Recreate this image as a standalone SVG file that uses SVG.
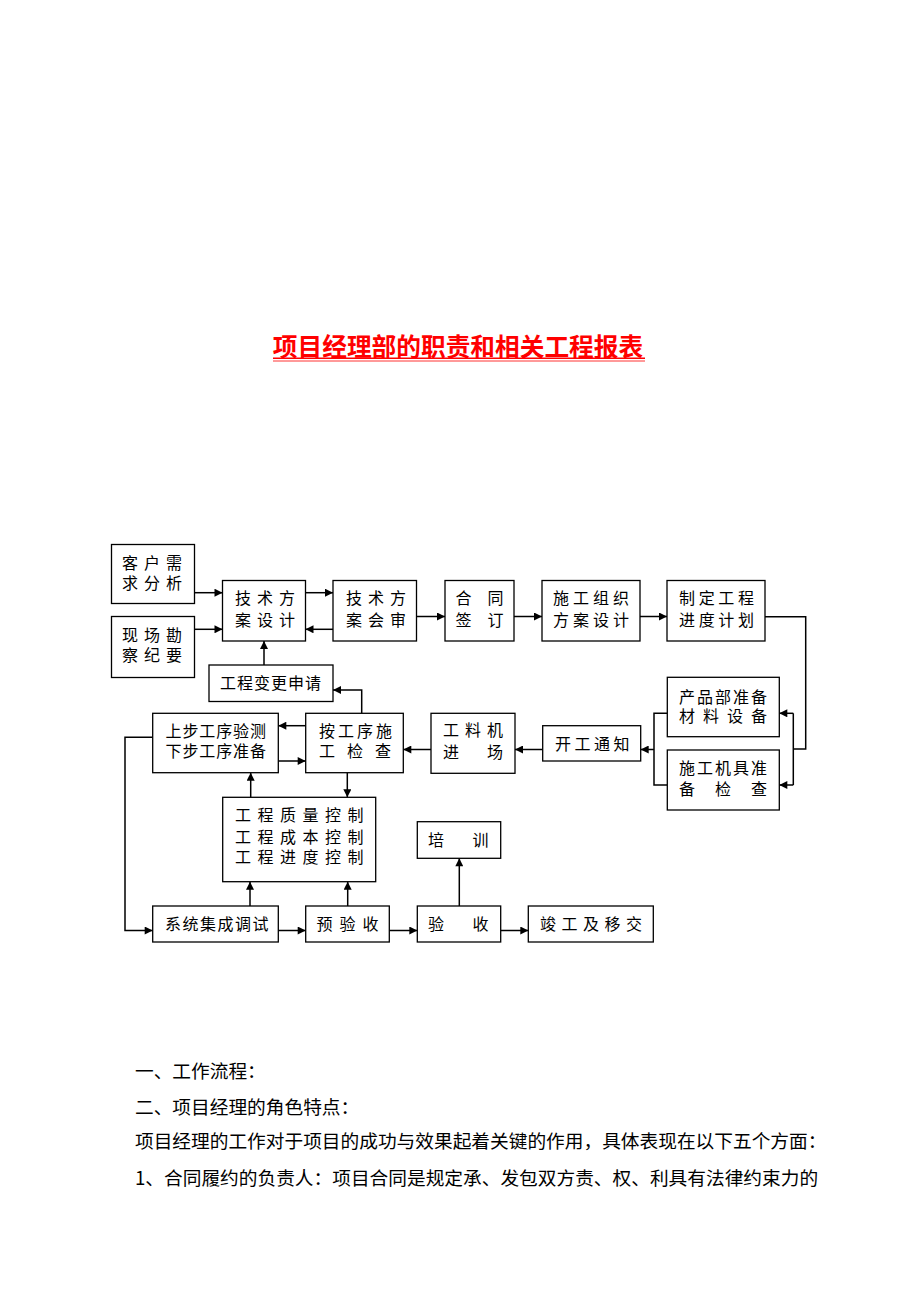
<svg xmlns="http://www.w3.org/2000/svg" width="920" height="1302" viewBox="0 0 920 1302">
<style>
.box{fill:#fff;stroke:#000;stroke-width:1.3}
.t{font-family:"Noto Sans CJK SC",sans-serif;font-size:16px;fill:#000}
.c{fill:none;stroke:#000;stroke-width:1.5}
.a{marker-end:url(#ah)}
.body{font-family:"Noto Sans CJK SC",sans-serif;font-size:18.7px;fill:#000}
</style>
<defs>
<marker id="ah" markerUnits="userSpaceOnUse" viewBox="0 0 10 10" markerWidth="9" markerHeight="8" refX="10" refY="5" orient="auto">
<path d="M0,0 L10,5 L0,10 z" fill="#000"/>
</marker>
</defs>
<rect width="920" height="1302" fill="#fff"/>

<g id="title">
<text x="458" y="355.5" text-anchor="middle" font-family="Noto Sans CJK SC, sans-serif" font-size="24.7" font-weight="bold" fill="#ff0000">项目经理部的职责和相关工程报表</text>
<line x1="273" y1="358.3" x2="645" y2="358.3" stroke="#ff0000" stroke-width="1.5"/>
<line x1="273" y1="361" x2="645" y2="361" stroke="#ff0000" stroke-width="0.8"/>
</g>

<g id="connectors">
<path class="c a" d="M194.5,592.7 H222.5"/>
<path class="c a" d="M194.5,629.3 H222.5"/>
<path class="c a" d="M305.5,592.7 H333"/>
<path class="c a" d="M333,629.3 H305.5"/>
<path class="c a" d="M416.5,616.5 H445"/>
<path class="c a" d="M514,616.5 H542"/>
<path class="c a" d="M640,616.5 H667"/>
<path class="c" d="M765,616.7 H805.7 V749 H793.3"/>
<path class="c" d="M793.3,713.3 V785"/>
<path class="c a" d="M793.3,713.3 H779.3"/>
<path class="c a" d="M793.3,785 H779.3"/>
<path class="c" d="M667.3,713.3 H654 V785 H667.3"/>
<path class="c a" d="M654,749.5 H640.7"/>
<path class="c a" d="M542.7,749.5 H515"/>
<path class="c a" d="M431,749.5 H403.3"/>
<path class="c a" d="M305.7,725.7 H278.3"/>
<path class="c a" d="M278.3,761 H305.7"/>
<path class="c a" d="M361.7,713.3 V690 H333"/>
<path class="c a" d="M264,665 V641"/>
<path class="c a" d="M347.3,772.7 V797.3"/>
<path class="c a" d="M250.7,797.3 V772.7"/>
<path class="c a" d="M152.7,737.3 H125 V930.5 H152.7"/>
<path class="c a" d="M250,906 V881.7"/>
<path class="c a" d="M347.7,906 V881.7"/>
<path class="c a" d="M278.3,930.5 H305.7"/>
<path class="c a" d="M389.3,930.5 H417.3"/>
<path class="c a" d="M459.3,906 V858.3"/>
<path class="c a" d="M500.7,930.5 H528.3"/>
</g>

<g id="n-kehu">
<rect class="box" x="111.5" y="544.5" width="83" height="59"/>
<text class="t"><tspan x="122 144 166" y="569">客户需</tspan><tspan x="122 144 166" y="589">求分析</tspan></text>
</g>
<g id="n-xianchang">
<rect class="box" x="111.5" y="616.5" width="83" height="61"/>
<text class="t"><tspan x="122 144 166" y="641">现场勘</tspan><tspan x="122 144 166" y="661">察纪要</tspan></text>
</g>
<g id="n-jishusheji">
<rect class="box" x="222.5" y="580.5" width="83" height="60.5"/>
<text class="t"><tspan x="235 257 279" y="604">技术方</tspan><tspan x="235 257 279" y="626">案设计</tspan></text>
</g>
<g id="n-jishuhuishen">
<rect class="box" x="333" y="580.5" width="83.5" height="60.5"/>
<text class="t"><tspan x="346 368 390" y="604">技术方</tspan><tspan x="346 368 390" y="626">案会审</tspan></text>
</g>
<g id="n-biangeng">
<rect class="box" x="209" y="665" width="124" height="36.5"/>
<text class="t" x="220 237 254 271 288 305" y="689">工程变更申请</text>
</g>
<g id="n-hetong">
<rect class="box" x="445" y="580.5" width="69" height="60.5"/>
<text class="t"><tspan x="455.5 487.5" y="603.5">合同</tspan><tspan x="455.5 487.5" y="626">签订</tspan></text>
</g>
<g id="n-shigongzuzhi">
<rect class="box" x="542" y="580.5" width="98" height="60.5"/>
<text class="t"><tspan x="553 573 593 613" y="603.5">施工组织</tspan><tspan x="553 573 593 613" y="626">方案设计</tspan></text>
</g>
<g id="n-jindu">
<rect class="box" x="667" y="580.5" width="98" height="60.5"/>
<text class="t"><tspan x="679 698.7 718.3 738" y="603.5">制定工程</tspan><tspan x="679 698.7 718.3 738" y="626">进度计划</tspan></text>
</g>
<g id="n-chanpin">
<rect class="box" x="667.3" y="677.3" width="112" height="59.4"/>
<text class="t"><tspan x="679 697 715 733 751" y="702.5">产品部准备</tspan><tspan x="679 703 727 751" y="721.5">材料设备</tspan></text>
</g>
<g id="n-jiju">
<rect class="box" x="667.3" y="750" width="112" height="60"/>
<text class="t"><tspan x="679 697 715 733 751" y="774">施工机具准</tspan><tspan x="679 715 751" y="794.5">备检查</tspan></text>
</g>
<g id="n-kaigong">
<rect class="box" x="542.7" y="725.7" width="98" height="35.3"/>
<text class="t" x="555 574.5 594 613.5" y="750">开工通知</text>
</g>
<g id="n-gongliaoji">
<rect class="box" x="431" y="713.3" width="84" height="60"/>
<text class="t"><tspan x="443 465 487" y="736">工料机</tspan><tspan x="443 487" y="757.7">进场</tspan></text>
</g>
<g id="n-angongxu">
<rect class="box" x="305.7" y="713.3" width="97.6" height="59.4"/>
<text class="t"><tspan x="319 338 357 376" y="736.7">按工序施</tspan><tspan x="319 347 375" y="757">工检查</tspan></text>
</g>
<g id="n-shangbu">
<rect class="box" x="152.7" y="713.3" width="125.6" height="59.4"/>
<text class="t"><tspan x="165.5 182.4 199.3 216.2 233.1 250" y="736.7">上步工序验测</tspan><tspan x="165.5 182.4 199.3 216.2 233.1 250" y="757">下步工序准备</tspan></text>
</g>
<g id="n-kongzhi">
<rect class="box" x="222.7" y="797.3" width="153" height="84.4"/>
<text class="t"><tspan x="235 257.5 280 302.5 325 347.5" y="821">工程质量控制</tspan><tspan x="235 257.5 280 302.5 325 347.5" y="842.7">工程成本控制</tspan><tspan x="235 257.5 280 302.5 325 347.5" y="862.7">工程进度控制</tspan></text>
</g>
<g id="n-xitong">
<rect class="box" x="152.7" y="906" width="125.6" height="36"/>
<text class="t" x="165 182.5 200 217.5 235 252.5" y="930">系统集成调试</text>
</g>
<g id="n-yuyanshou">
<rect class="box" x="305.7" y="906" width="83.6" height="36"/>
<text class="t" x="316.5 339.5 362.5" y="930">预验收</text>
</g>
<g id="n-yanshou">
<rect class="box" x="417.3" y="906" width="83.4" height="36"/>
<text class="t" x="428 472.5" y="930">验收</text>
</g>
<g id="n-peixun">
<rect class="box" x="417.3" y="821.7" width="83.4" height="36.6"/>
<text class="t" x="428 472.5" y="846">培训</text>
</g>
<g id="n-jungong">
<rect class="box" x="528.3" y="906" width="125" height="36"/>
<text class="t" x="540 561.5 583 604.5 626" y="930">竣工及移交</text>
</g>

<g id="body">
<text class="body" x="135" y="1077.8">一、工作流程：</text>
<text class="body" x="135" y="1114">二、项目经理的角色特点：</text>
<text class="body" x="135" y="1147.8">项目经理的工作对于项目的成功与效果起着关键的作用，具体表现在以下五个方面：</text>
<text class="body" x="135" y="1184.8">1、合同履约的负责人：项目合同是规定承、发包双方责、权、利具有法律约束力的</text>
</g>
</svg>
